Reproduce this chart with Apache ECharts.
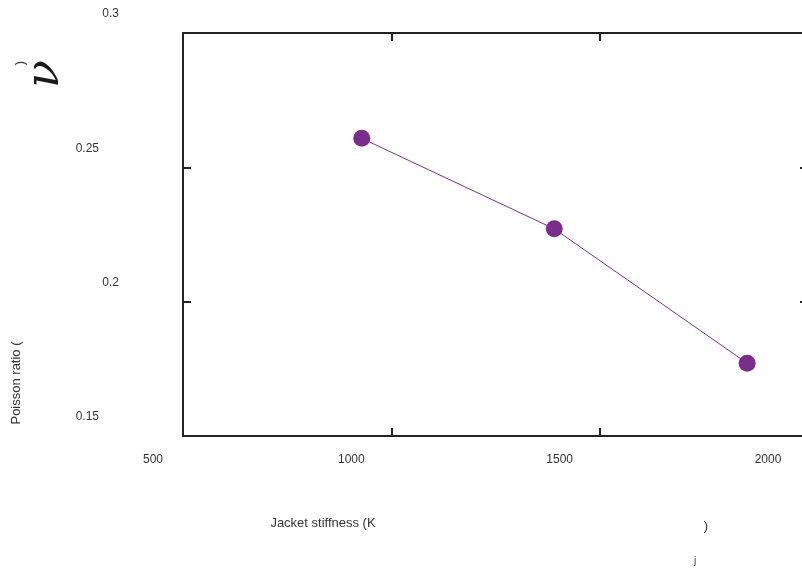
<!DOCTYPE html>
<html>
<head>
<meta charset="utf-8">
<script src="https://cdn.jsdelivr.net/npm/echarts@6/dist/echarts.min.js"></script>
<style>
  html, body { margin: 0; padding: 0; background: #ffffff; }
  #chart { width: 802px; height: 568px; }
</style>
</head>
<body>
<div id="chart"></div>
<script>
// Jacket stiffness K_j versus Poisson ratio
const stiffness = [929, 1391, 1854];
const poisson = [0.2608, 0.2271, 0.1771];
const xTicks = [500, 1000, 1500, 2000];
const yTicks = [0.15, 0.2, 0.25, 0.3];

const AXIS_COLOR = '#222222';
const MARK_COLOR = '#7b2d8e';
const FONT = 'Liberation Sans, Arial, sans-serif';

const points = stiffness.map((x, i) => [x, poisson[i]]);

const chart = echarts.init(document.getElementById('chart'), null, { renderer: 'canvas' });

const axisLine = { show: true, lineStyle: { color: AXIS_COLOR, width: 2 } };
const axisTick = { show: true, inside: true, length: 8, lineStyle: { color: AXIS_COLOR, width: 2 } };

chart.setOption({
  animation: false,
  backgroundColor: '#ffffff',
  grid: { left: 183, top: 33, width: 625, height: 403, containLabel: false, outerBoundsMode: 'none' },
  xAxis: [
    {
      type: 'value', position: 'bottom',
      min: xTicks[0], max: xTicks[xTicks.length - 1], interval: 500,
      axisLine, axisTick, splitLine: { show: false },
      axisLabel: {
        margin: 18,
        color: '#333333', fontFamily: FONT, fontSize: 12,
        formatter: v => (v === xTicks[0] ? '{s|' + v + '}' : '{l|' + v + '}'),
        rich: {
          s: { fontFamily: FONT, fontSize: 12, color: '#333333', padding: [0, 60, 0, 0] },
          l: { fontFamily: FONT, fontSize: 12, color: '#333333', padding: [0, 80, 0, 0] }
        }
      }
    },
    {
      type: 'value', position: 'top',
      min: xTicks[0], max: xTicks[xTicks.length - 1], interval: 500,
      axisLine, axisTick, axisLabel: { show: false }, splitLine: { show: false }
    }
  ],
  yAxis: [
    {
      type: 'value', position: 'left',
      min: yTicks[0], max: yTicks[yTicks.length - 1], interval: 0.05,
      axisLine, axisTick, splitLine: { show: false },
      axisLabel: {
        margin: 64,
        padding: [0, 0, 38, 0],
        color: '#333333', fontFamily: FONT, fontSize: 12,
        formatter: v => {
          const s = String(+v.toFixed(2));
          return s.length > 3 ? '{w|' + s + '}' : '{n|' + s + '}';
        },
        rich: {
          n: { fontFamily: FONT, fontSize: 12, color: '#333333' },
          w: { fontFamily: FONT, fontSize: 12, color: '#333333', padding: [0, 20, 0, 0] }
        }
      }
    },
    {
      type: 'value', position: 'right',
      min: yTicks[0], max: yTicks[yTicks.length - 1], interval: 0.05,
      axisLine, axisTick, axisLabel: { show: false }, splitLine: { show: false }
    }
  ],
  series: [
    {
      type: 'line',
      data: points,
      xAxisIndex: 0, yAxisIndex: 0,
      symbol: 'circle', symbolSize: 17,
      itemStyle: { color: MARK_COLOR },
      lineStyle: { color: MARK_COLOR, width: 1 }
    }
  ],
  graphic: [
    {
      type: 'text', x: 323, y: 523,
      style: { text: 'Jacket stiffness (K', font: '13px ' + FONT, fill: '#333333',
               textAlign: 'center', textVerticalAlign: 'middle' }
    },
    {
      type: 'text', x: 706, y: 526,
      style: { text: ')', font: '13px ' + FONT, fill: '#333333',
               textAlign: 'center', textVerticalAlign: 'middle' }
    },
    {
      type: 'text', x: 695, y: 561,
      style: { text: 'j', font: '10px ' + FONT, fill: '#333333',
               textAlign: 'center', textVerticalAlign: 'middle' }
    },
    {
      type: 'text', x: 16, y: 383, rotation: Math.PI / 2,
      style: { text: 'Poisson ratio (', font: '13px ' + FONT, fill: '#333333',
               textAlign: 'center', textVerticalAlign: 'middle' }
    },
    {
      type: 'text', x: 20, y: 63, rotation: Math.PI / 2,
      style: { text: ')', font: '13px ' + FONT, fill: '#333333',
               textAlign: 'center', textVerticalAlign: 'middle' }
    },
    {
      type: 'text', x: 46, y: 74, rotation: Math.PI / 2,
      style: { text: 'ν', font: 'italic 46px "DejaVu Serif", "Liberation Serif", serif', fill: '#1a1a1a',
               textAlign: 'center', textVerticalAlign: 'middle' }
    }
  ]
});
</script>
</body>
</html>
